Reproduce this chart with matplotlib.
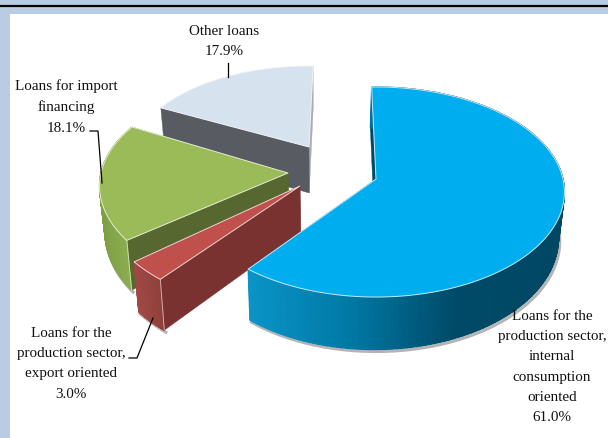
import numpy as np
import matplotlib
matplotlib.use('Agg')
import matplotlib.pyplot as plt
from matplotlib.collections import PolyCollection
from matplotlib.colors import LinearSegmentedColormap
from matplotlib.patches import Polygon, Rectangle

# slices in clockwise order, starting at the top
shares = [61.0, 3.0, 18.1, 17.9]
names = ['Loans for the\nproduction sector,\ninternal\nconsumption\noriented',
         'Loans for the\nproduction sector,\nexport oriented',
         'Loans for import\nfinancing',
         'Other loans']

# look of each slice (apex in pixels)
apex = [(376, 180), (300, 187), (288, 174), (309, 148)]
scale_x = [1.0, 1.06, 1.0, 0.94]
scale_y = [1.0, 1.06, 1.0, 0.88]
turn = [0, 1.5, 4, 3]
top_col = ['#00aeef', '#bf504c', '#9bbb59', '#d7e2ef']
wall_col = ['#004a68', '#7a3230', '#566830', '#585c62']
wall_end_col = ['#004a68', '#7a3230', '#566830', '#a9acb0']
edge_col = ['#c4e9f8', '#eed5d4', '#e4edd2', '#eef2f7']
rim_cols = [['#0a94c8', '#0078a4', '#004a68', '#004764'],
            ['#a04844', '#8f403c'],
            ['#7f9f45', '#8fb052'],
            ['#585c62', '#585c62']]

label_xy = [(552, 316), (71, 333), (66, 85), (224, 31)]
leaders = [None,
           [(129, 359), (137, 359), (153, 319)],
           [(90, 132), (98, 132), (102, 184)],
           [(228, 64), (228, 78)]]

RX, RY, PERSP, DEPTH = 187, 103.4, 0.124, 46
START = -91.5
BOTTOM_X, BOTTOM_SHRINK = 320, 0.975


def project(ang, i):
    u = np.cos(np.radians(ang))
    v = np.sin(np.radians(ang))
    den = 1 - PERSP * v
    return u * RX * scale_x[i] / den, v * RY * scale_y[i] / den, DEPTH / den


def lower(x):
    # the underside of the pie sits a little narrower than the top
    return BOTTOM_X + (x - BOTTOM_X) * BOTTOM_SHRINK


fig = plt.figure(figsize=(6.08, 4.39), dpi=100, facecolor='#b8cce4')
ax = fig.add_axes([0, 0, 1, 1])
ax.set_xlim(0, 608)
ax.set_ylim(439, 0)
ax.axis('off')

ax.add_patch(Rectangle((10, 15), 598, 424, fc='white', ec='none', zorder=0))
ax.plot([0, 608], [6.6, 6.6], color='black', lw=1.6, zorder=1, solid_capstyle='butt')

ends = START + np.cumsum([0] + shares) * 3.6
z = 2
for i in [3, 2, 1, 0]:
    a0, a1 = ends[i] + turn[i], ends[i + 1] + turn[i]
    cx, cy = apex[i]
    angs = np.linspace(a0, a1, 160)
    px, py, pd = project(angs, i)
    px = px + cx
    py = py + cy
    bx = lower(px)

    # soft shadow round the lower edge
    if i != 3:
        ax.plot(bx + 1.5, py + pd + 2, color='#b4b4b4', lw=2.2, zorder=z)

    # cut walls
    for k, col in ((-1, wall_end_col[i]), (0, wall_col[i])):
        ax.add_patch(Polygon([(cx, cy), (px[k], py[k]), (bx[k], py[k] + pd[k]), (lower(cx), cy + DEPTH)],
                             fc=col, ec=col, lw=0.3, zorder=z + 0.1))

    # outer rim, shaded from left to right
    if i != 3:
        cmap = LinearSegmentedColormap.from_list('rim', rim_cols[i])
        quads = []
        cols = []
        lo, hi = px.min(), px.max()
        for j in range(len(angs) - 1):
            quads.append([(px[j], py[j]), (px[j + 1], py[j + 1]),
                          (bx[j + 1], py[j + 1] + pd[j + 1]), (bx[j], py[j] + pd[j])])
            cols.append(cmap((px[j] - lo) / (hi - lo)))
        ax.add_collection(PolyCollection(quads, facecolors=cols, edgecolors=cols, linewidths=0.9, zorder=z + 0.2))

    # light lines where the faces meet on the front corners
    if i in (1, 2):
        ax.plot([px[0], bx[0]], [py[0], py[0] + pd[0]], color=edge_col[i], lw=0.6, zorder=z + 0.3, alpha=0.8)

    ax.add_patch(Polygon(np.vstack([[(cx, cy)], np.column_stack([px, py])]),
                         fc=top_col[i], ec=edge_col[i], lw=0.7, joinstyle='round', zorder=z + 0.4))
    z += 1

for i in range(4):
    ax.text(label_xy[i][0], label_xy[i][1] - 6,
            '%s\n%.1f%%' % (names[i], shares[i]),
            family='Liberation Serif', fontsize=10.9, color='#111111',
            ha='center', va='top', linespacing=1.72, zorder=10)
    if leaders[i]:
        lx, ly = zip(*leaders[i])
        ax.plot(lx, ly, color='black', lw=0.9, zorder=9)

fig.savefig('out.png', dpi=100, facecolor=fig.get_facecolor())
